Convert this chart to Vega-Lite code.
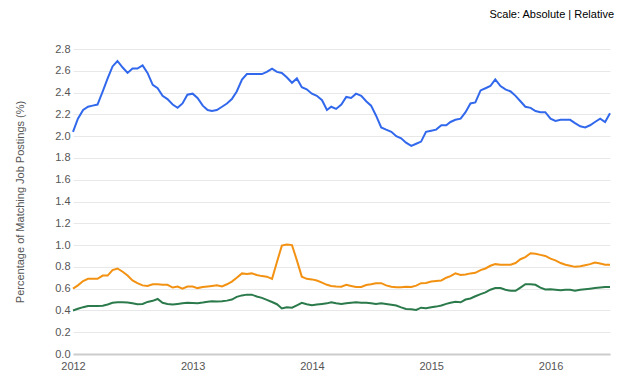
{
"$schema":"https://vega.github.io/schema/vega-lite/v6.json",
"width":537,"height":305,
"autosize":{"type":"none"},
"padding":{"left":73,"top":49,"right":30,"bottom":30},
"background":"white",
"title":{"text":"Scale: Absolute | Relative","anchor":"end","fontSize":11,"fontWeight":"normal","color":"#000","font":"Liberation Sans","offset":23},
"config":{"view":{"stroke":null},"font":"Liberation Sans",
  "axisY":{"grid":true,"gridColor":"#e8e8e8","domain":false,"ticks":false,"labelPadding":3,"labelColor":"#555555","labelFontSize":11,"labelFont":"Liberation Sans","titleFont":"Liberation Sans","titleFontWeight":"normal","titleColor":"#555555","titleFontSize":11,"titlePadding":29}},
"data":{"values":[
{"d":"2012-01-01","b":2.04,"o":0.60,"g":0.40},
{"d":"2012-01-16","b":2.16,"o":0.63,"g":0.415},
{"d":"2012-02-01","b":2.24,"o":0.67,"g":0.43},
{"d":"2012-02-16","b":2.27,"o":0.69,"g":0.44},
{"d":"2012-03-01","b":2.28,"o":0.69,"g":0.44},
{"d":"2012-03-16","b":2.29,"o":0.69,"g":0.44},
{"d":"2012-04-01","b":2.41,"o":0.72,"g":0.443},
{"d":"2012-04-16","b":2.53,"o":0.72,"g":0.455},
{"d":"2012-05-01","b":2.64,"o":0.77,"g":0.47},
{"d":"2012-05-16","b":2.69,"o":0.785,"g":0.475},
{"d":"2012-06-01","b":2.63,"o":0.755,"g":0.475},
{"d":"2012-06-16","b":2.58,"o":0.72,"g":0.472},
{"d":"2012-07-01","b":2.62,"o":0.675,"g":0.465},
{"d":"2012-07-16","b":2.62,"o":0.65,"g":0.457},
{"d":"2012-08-01","b":2.65,"o":0.63,"g":0.46},
{"d":"2012-08-16","b":2.58,"o":0.625,"g":0.478},
{"d":"2012-09-01","b":2.47,"o":0.64,"g":0.488},
{"d":"2012-09-16","b":2.44,"o":0.64,"g":0.505},
{"d":"2012-10-01","b":2.37,"o":0.635,"g":0.47},
{"d":"2012-10-16","b":2.34,"o":0.635,"g":0.46},
{"d":"2012-11-01","b":2.29,"o":0.61,"g":0.455},
{"d":"2012-11-16","b":2.26,"o":0.62,"g":0.46},
{"d":"2012-12-01","b":2.30,"o":0.60,"g":0.465},
{"d":"2012-12-16","b":2.38,"o":0.62,"g":0.47},
{"d":"2013-01-01","b":2.39,"o":0.62,"g":0.468},
{"d":"2013-01-16","b":2.35,"o":0.605,"g":0.467},
{"d":"2013-02-01","b":2.28,"o":0.615,"g":0.473},
{"d":"2013-02-16","b":2.24,"o":0.62,"g":0.48},
{"d":"2013-03-01","b":2.23,"o":0.625,"g":0.485},
{"d":"2013-03-16","b":2.24,"o":0.63,"g":0.482},
{"d":"2013-04-01","b":2.27,"o":0.62,"g":0.485},
{"d":"2013-04-16","b":2.30,"o":0.64,"g":0.49},
{"d":"2013-05-01","b":2.34,"o":0.665,"g":0.50},
{"d":"2013-05-16","b":2.41,"o":0.70,"g":0.525},
{"d":"2013-06-01","b":2.52,"o":0.74,"g":0.538},
{"d":"2013-06-16","b":2.57,"o":0.735,"g":0.545},
{"d":"2013-07-01","b":2.57,"o":0.74,"g":0.545},
{"d":"2013-07-16","b":2.57,"o":0.725,"g":0.528},
{"d":"2013-08-01","b":2.57,"o":0.715,"g":0.515},
{"d":"2013-08-16","b":2.59,"o":0.71,"g":0.497},
{"d":"2013-09-01","b":2.62,"o":0.69,"g":0.477},
{"d":"2013-09-16","b":2.59,"o":0.845,"g":0.457},
{"d":"2013-10-01","b":2.58,"o":0.995,"g":0.418},
{"d":"2013-10-16","b":2.54,"o":1.005,"g":0.43},
{"d":"2013-11-01","b":2.49,"o":1.00,"g":0.425},
{"d":"2013-11-16","b":2.53,"o":0.86,"g":0.447},
{"d":"2013-12-01","b":2.45,"o":0.71,"g":0.47},
{"d":"2013-12-16","b":2.43,"o":0.69,"g":0.457},
{"d":"2014-01-01","b":2.39,"o":0.685,"g":0.447},
{"d":"2014-01-16","b":2.37,"o":0.675,"g":0.455},
{"d":"2014-02-01","b":2.33,"o":0.655,"g":0.46},
{"d":"2014-02-16","b":2.24,"o":0.635,"g":0.465},
{"d":"2014-03-01","b":2.27,"o":0.625,"g":0.475},
{"d":"2014-03-16","b":2.25,"o":0.62,"g":0.465},
{"d":"2014-04-01","b":2.29,"o":0.617,"g":0.46},
{"d":"2014-04-16","b":2.36,"o":0.635,"g":0.465},
{"d":"2014-05-01","b":2.35,"o":0.625,"g":0.47},
{"d":"2014-05-16","b":2.39,"o":0.615,"g":0.475},
{"d":"2014-06-01","b":2.37,"o":0.615,"g":0.47},
{"d":"2014-06-16","b":2.32,"o":0.633,"g":0.47},
{"d":"2014-07-01","b":2.28,"o":0.64,"g":0.465},
{"d":"2014-07-16","b":2.19,"o":0.65,"g":0.46},
{"d":"2014-08-01","b":2.08,"o":0.65,"g":0.465},
{"d":"2014-08-16","b":2.06,"o":0.63,"g":0.46},
{"d":"2014-09-01","b":2.04,"o":0.617,"g":0.452},
{"d":"2014-09-16","b":2.00,"o":0.612,"g":0.445},
{"d":"2014-10-01","b":1.98,"o":0.613,"g":0.428},
{"d":"2014-10-16","b":1.94,"o":0.618,"g":0.413},
{"d":"2014-11-01","b":1.91,"o":0.615,"g":0.41},
{"d":"2014-11-16","b":1.93,"o":0.628,"g":0.405},
{"d":"2014-12-01","b":1.95,"o":0.65,"g":0.425},
{"d":"2014-12-16","b":2.04,"o":0.652,"g":0.42},
{"d":"2015-01-01","b":2.05,"o":0.665,"g":0.43},
{"d":"2015-01-16","b":2.06,"o":0.67,"g":0.435},
{"d":"2015-02-01","b":2.10,"o":0.675,"g":0.445},
{"d":"2015-02-16","b":2.10,"o":0.70,"g":0.46},
{"d":"2015-03-01","b":2.13,"o":0.715,"g":0.47},
{"d":"2015-03-16","b":2.15,"o":0.74,"g":0.48},
{"d":"2015-04-01","b":2.16,"o":0.725,"g":0.475},
{"d":"2015-04-16","b":2.22,"o":0.73,"g":0.50},
{"d":"2015-05-01","b":2.30,"o":0.74,"g":0.51},
{"d":"2015-05-16","b":2.31,"o":0.745,"g":0.53},
{"d":"2015-06-01","b":2.42,"o":0.77,"g":0.55},
{"d":"2015-06-16","b":2.44,"o":0.785,"g":0.565},
{"d":"2015-07-01","b":2.46,"o":0.81,"g":0.59},
{"d":"2015-07-16","b":2.52,"o":0.825,"g":0.605},
{"d":"2015-08-01","b":2.46,"o":0.82,"g":0.605},
{"d":"2015-08-16","b":2.43,"o":0.82,"g":0.59},
{"d":"2015-09-01","b":2.41,"o":0.82,"g":0.58},
{"d":"2015-09-16","b":2.37,"o":0.835,"g":0.58},
{"d":"2015-10-01","b":2.32,"o":0.87,"g":0.61},
{"d":"2015-10-16","b":2.27,"o":0.89,"g":0.64},
{"d":"2015-11-01","b":2.26,"o":0.925,"g":0.64},
{"d":"2015-11-16","b":2.23,"o":0.92,"g":0.635},
{"d":"2015-12-01","b":2.22,"o":0.91,"g":0.61},
{"d":"2015-12-16","b":2.22,"o":0.90,"g":0.592},
{"d":"2016-01-01","b":2.16,"o":0.875,"g":0.595},
{"d":"2016-01-16","b":2.14,"o":0.86,"g":0.59},
{"d":"2016-02-01","b":2.15,"o":0.835,"g":0.585},
{"d":"2016-02-16","b":2.15,"o":0.82,"g":0.59},
{"d":"2016-03-01","b":2.15,"o":0.81,"g":0.59},
{"d":"2016-03-16","b":2.12,"o":0.80,"g":0.58},
{"d":"2016-04-01","b":2.09,"o":0.805,"g":0.59},
{"d":"2016-04-16","b":2.08,"o":0.815,"g":0.595},
{"d":"2016-05-01","b":2.10,"o":0.825,"g":0.60},
{"d":"2016-05-16","b":2.13,"o":0.84,"g":0.605},
{"d":"2016-06-01","b":2.16,"o":0.83,"g":0.61},
{"d":"2016-06-16","b":2.13,"o":0.82,"g":0.615},
{"d":"2016-07-01","b":2.21,"o":0.82,"g":0.615}
]},
"encoding":{
  "x":{"field":"d","type":"temporal","scale":{"type":"utc"},
       "axis":{"title":null,"grid":false,"ticks":false,"tickCount":"year","format":"%Y","domainColor":"#cccccc","domainWidth":2,"labelColor":"#555555","labelFontSize":11,"labelPadding":6,"labelFont":"Liberation Sans","labelFlush":false}}
},
"layer":[
  {"mark":{"type":"line","color":"#3168ec","strokeWidth":2},
   "encoding":{"y":{"field":"b","type":"quantitative","scale":{"domain":[0,2.8]},"title":"Percentage of Matching Job Postings (%)",
     "axis":{"values":[0,0.2,0.4,0.6,0.8,1.0,1.2,1.4,1.6,1.8,2.0,2.2,2.4,2.6,2.8],"format":".1f"}}}},
  {"mark":{"type":"line","color":"#f39212","strokeWidth":2},
   "encoding":{"y":{"field":"o","type":"quantitative","scale":{"domain":[0,2.8]},"title":"Percentage of Matching Job Postings (%)",
     "axis":{"values":[0,0.2,0.4,0.6,0.8,1.0,1.2,1.4,1.6,1.8,2.0,2.2,2.4,2.6,2.8],"format":".1f"}}}},
  {"mark":{"type":"line","color":"#2b7a4b","strokeWidth":2},
   "encoding":{"y":{"field":"g","type":"quantitative","scale":{"domain":[0,2.8]},"title":"Percentage of Matching Job Postings (%)",
     "axis":{"values":[0,0.2,0.4,0.6,0.8,1.0,1.2,1.4,1.6,1.8,2.0,2.2,2.4,2.6,2.8],"format":".1f"}}}}
]
}
